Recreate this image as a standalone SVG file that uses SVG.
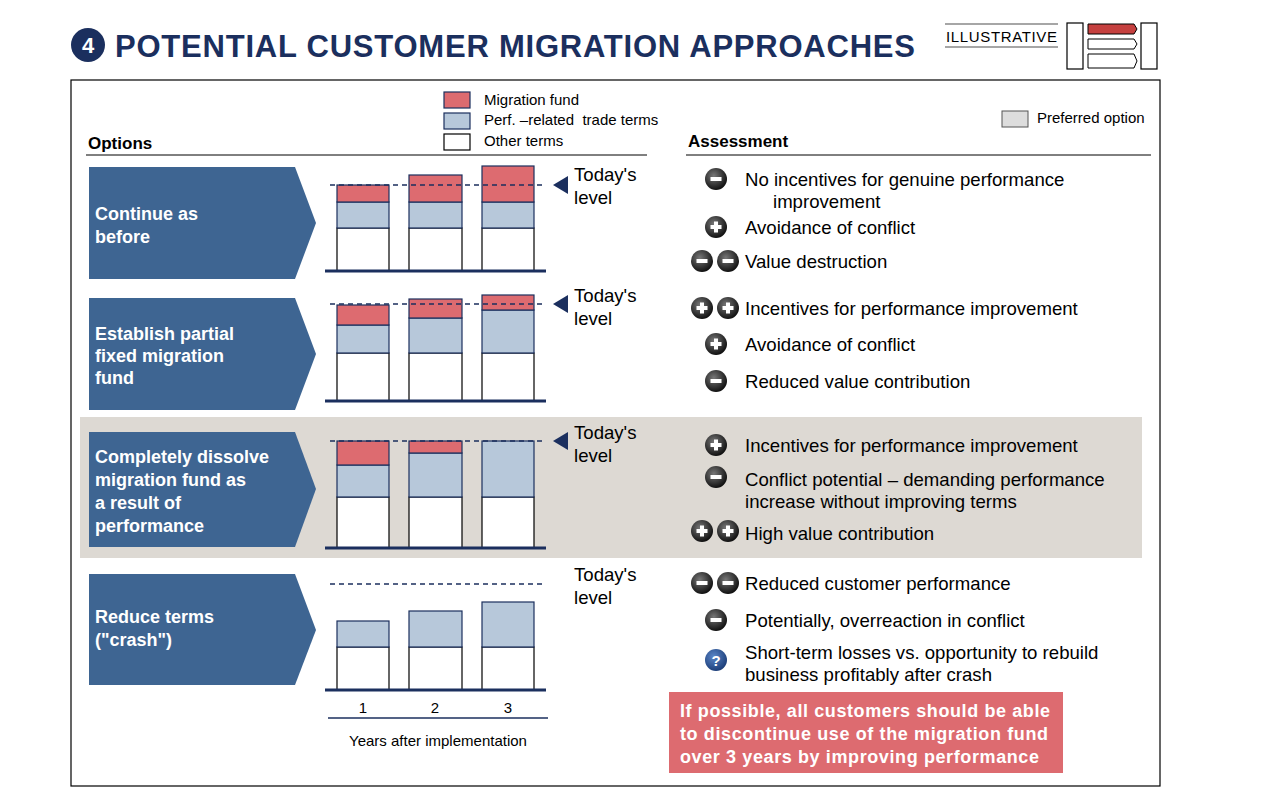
<svg xmlns="http://www.w3.org/2000/svg" width="1280" height="799" viewBox="0 0 1280 799">
<defs>
<radialGradient id="g" cx="40%" cy="35%" r="65%"><stop offset="0" stop-color="#777"/><stop offset="1" stop-color="#111"/></radialGradient>
<radialGradient id="gb" cx="40%" cy="35%" r="65%"><stop offset="0" stop-color="#5a86c8"/><stop offset="1" stop-color="#1d3f7a"/></radialGradient>
<g id="minus"><circle r="11" fill="url(#g)"/><rect x="-5.5" y="-2" width="11" height="4" fill="#fff"/></g>
<g id="plus"><circle r="11" fill="url(#g)"/><rect x="-5.5" y="-2" width="11" height="4" fill="#fff"/><rect x="-2" y="-5.5" width="4" height="11" fill="#fff"/></g>
<g id="tri"><polygon points="0,0 15,-9 15,9" fill="#1b2f5e"/></g>
</defs>
<style>
text{font-family:"Liberation Sans",Arial,sans-serif;fill:#000}
.t{font-size:18.6px}
.h{font-size:17px;font-weight:bold}
.w{font-size:18px;font-weight:bold;fill:#fff}
.s{font-size:15px}
.red{fill:#dd6b70;stroke:#1b2f5e;stroke-width:1.2}
.blue{fill:#b7c8da;stroke:#1b2f5e;stroke-width:1.2}
.wh{fill:#fff;stroke:#000;stroke-width:1.2}
.base{stroke:#1b2f5e;stroke-width:3}
.dash{stroke:#1b2f5e;stroke-width:1.3;stroke-dasharray:5,4}
.arr{fill:#3e6592}
</style>
<rect width="1280" height="799" fill="#fff"/>
<circle cx="88" cy="45" r="17" fill="#1b2f5e"/>
<text x="88" y="53" text-anchor="middle" style="font-size:22px;font-weight:bold;fill:#fff">4</text>
<text x="115" y="57" textLength="800" style="font-size:31px;font-weight:bold;fill:#1b2f5e">POTENTIAL CUSTOMER MIGRATION APPROACHES</text>
<g id="logo">
<line x1="945" y1="24" x2="1058" y2="24" stroke="#888" stroke-width="1.5"/>
<line x1="945" y1="47" x2="1058" y2="47" stroke="#888" stroke-width="1.5"/>
<text x="946" y="42" textLength="111" style="font-size:15px">ILLUSTRATIVE</text>
<rect x="1067" y="23" width="16" height="46" fill="#fff" stroke="#000" stroke-width="1.2"/>
<rect x="1141" y="23" width="16" height="46" fill="#fff" stroke="#000" stroke-width="1.2"/>
<path d="M1088,24 H1134 L1137,29 L1134,34 H1088Z" fill="#c5403f" stroke="#000"/>
<path d="M1088,39 H1134 L1137,44 L1134,49 H1088Z" fill="#fff" stroke="#000"/>
<path d="M1088,54 H1134 L1137,61 L1134,68 H1088Z" fill="#fff" stroke="#000"/>
</g>
<rect x="71" y="80" width="1089" height="706" fill="none" stroke="#000" stroke-width="1.2"/>
<rect x="80" y="417" width="1062" height="141" fill="#ddd9d3"/>
<g id="legend">
<rect x="444" y="92" width="26" height="16" class="red"/><text x="484" y="105" class="s">Migration fund</text>
<rect x="444" y="113" width="26" height="16" class="blue"/><text x="484" y="125" class="s" xml:space="preserve">Perf. –related  trade terms</text>
<rect x="444" y="134" width="26" height="16" class="wh"/><text x="484" y="146" class="s">Other terms</text>
<rect x="1002" y="111" width="26" height="16" fill="#ddd" stroke="#555"/><text x="1037" y="123" class="s">Preferred option</text>
</g>
<text x="88" y="149" class="h">Options</text>
<line x1="86" y1="155" x2="647" y2="155" stroke="#000"/>
<text x="688" y="147" class="h">Assessment</text>
<line x1="686" y1="155" x2="1151" y2="155" stroke="#000"/>
<g id="opt1"><polygon class="arr" points="89,167 295,167 316,223 295,279 89,279"/><text x="95" y="220" class="w">Continue as</text><text x="95" y="243" class="w">before</text></g>
<g id="opt2"><polygon class="arr" points="89,298 295,298 316,354 295,410 89,410"/><text x="95" y="340" class="w">Establish partial</text><text x="95" y="362" class="w">fixed migration</text><text x="95" y="384" class="w">fund</text></g>
<g id="opt3"><polygon class="arr" points="89,432 295,432 316,489 295,547 89,547"/><text x="95" y="463" class="w">Completely dissolve</text><text x="95" y="486" class="w">migration fund as</text><text x="95" y="509" class="w">a result of</text><text x="95" y="532" class="w">performance</text></g>
<g id="opt4"><polygon class="arr" points="89,574 295,574 316,630 295,685 89,685"/><text x="95" y="623" class="w">Reduce terms</text><text x="95" y="646" class="w">("crash")</text></g>
<g id="chart1">
<rect x="337" y="228" width="52" height="43" class="wh"/><rect x="337" y="202" width="52" height="26" class="blue"/><rect x="337" y="185" width="52" height="17" class="red"/>
<rect x="409" y="228" width="53" height="43" class="wh"/><rect x="409" y="202" width="53" height="26" class="blue"/><rect x="409" y="175" width="53" height="27" class="red"/>
<rect x="482" y="228" width="52" height="43" class="wh"/><rect x="482" y="202" width="52" height="26" class="blue"/><rect x="482" y="166" width="52" height="36" class="red"/>
<line x1="330" y1="185" x2="545" y2="185" class="dash"/><line x1="325" y1="271" x2="546" y2="271" class="base"/>
<use href="#tri" x="553" y="185"/><text x="574" y="181" class="t">Today's</text><text x="574" y="204" class="t">level</text>
</g>
<g id="chart2">
<rect x="337" y="353" width="52" height="48" class="wh"/><rect x="337" y="325" width="52" height="28" class="blue"/><rect x="337" y="305" width="52" height="20" class="red"/>
<rect x="409" y="353" width="53" height="48" class="wh"/><rect x="409" y="318" width="53" height="35" class="blue"/><rect x="409" y="299" width="53" height="19" class="red"/>
<rect x="482" y="353" width="52" height="48" class="wh"/><rect x="482" y="310" width="52" height="43" class="blue"/><rect x="482" y="295" width="52" height="15" class="red"/>
<line x1="330" y1="304" x2="545" y2="304" class="dash"/><line x1="325" y1="401" x2="546" y2="401" class="base"/>
<use href="#tri" x="553" y="304"/><text x="574" y="302" class="t">Today's</text><text x="574" y="325" class="t">level</text>
</g>
<g id="chart3">
<rect x="337" y="497" width="52" height="51" class="wh"/><rect x="337" y="465" width="52" height="32" class="blue"/><rect x="337" y="441" width="52" height="24" class="red"/>
<rect x="409" y="497" width="53" height="51" class="wh"/><rect x="409" y="453" width="53" height="44" class="blue"/><rect x="409" y="441" width="53" height="12" class="red"/>
<rect x="482" y="497" width="52" height="51" class="wh"/><rect x="482" y="441" width="52" height="56" class="blue"/>
<line x1="330" y1="441" x2="545" y2="441" class="dash"/><line x1="325" y1="548" x2="546" y2="548" class="base"/>
<use href="#tri" x="553" y="441"/><text x="574" y="439" class="t">Today's</text><text x="574" y="462" class="t">level</text>
</g>
<g id="chart4">
<rect x="337" y="647" width="52" height="43" class="wh"/><rect x="337" y="621" width="52" height="26" class="blue"/>
<rect x="409" y="647" width="53" height="43" class="wh"/><rect x="409" y="611" width="53" height="36" class="blue"/>
<rect x="482" y="647" width="52" height="43" class="wh"/><rect x="482" y="602" width="52" height="45" class="blue"/>
<line x1="330" y1="584" x2="545" y2="584" class="dash"/><line x1="325" y1="690" x2="546" y2="690" class="base"/>
<text x="574" y="581" class="t">Today's</text><text x="574" y="604" class="t">level</text>
</g>
<g id="axis">
<line x1="328" y1="718" x2="548" y2="718" stroke="#1b2f5e" stroke-width="1.5"/>
<text x="363" y="713" class="s" text-anchor="middle">1</text><text x="435" y="713" class="s" text-anchor="middle">2</text><text x="508" y="713" class="s" text-anchor="middle">3</text>
<text x="438" y="746" class="s" text-anchor="middle">Years after implementation</text>
</g>
<g id="assess1">
<use href="#minus" x="716" y="179"/><text x="745" y="186" class="t">No incentives for genuine performance</text><text x="773" y="208" class="t">improvement</text>
<use href="#plus" x="716" y="227"/><text x="745" y="234" class="t">Avoidance of conflict</text>
<use href="#minus" x="702" y="261"/><use href="#minus" x="728" y="261"/><text x="745" y="268" class="t">Value destruction</text>
</g>
<g id="assess2">
<use href="#plus" x="702" y="308"/><use href="#plus" x="728" y="308"/><text x="745" y="315" class="t">Incentives for performance improvement</text>
<use href="#plus" x="716" y="344"/><text x="745" y="351" class="t">Avoidance of conflict</text>
<use href="#minus" x="716" y="381"/><text x="745" y="388" class="t">Reduced value contribution</text>
</g>
<g id="assess3">
<use href="#plus" x="716" y="445"/><text x="745" y="452" class="t">Incentives for performance improvement</text>
<use href="#minus" x="716" y="477"/><text x="745" y="486" class="t">Conflict potential – demanding performance</text><text x="745" y="508" class="t">increase without improving terms</text>
<use href="#plus" x="702" y="531"/><use href="#plus" x="728" y="531"/><text x="745" y="540" class="t">High value contribution</text>
</g>
<g id="assess4">
<use href="#minus" x="702" y="583"/><use href="#minus" x="728" y="583"/><text x="745" y="590" class="t">Reduced customer performance</text>
<use href="#minus" x="716" y="620"/><text x="745" y="627" class="t">Potentially, overreaction in conflict</text>
<circle cx="716" cy="660" r="11" fill="url(#gb)"/><text x="716" y="666" text-anchor="middle" style="font-size:15px;font-weight:bold;fill:#fff">?</text>
<text x="745" y="659" class="t">Short-term losses vs. opportunity to rebuild</text><text x="745" y="681" class="t">business profitably after crash</text>
</g>
<g id="note">
<rect x="669" y="692" width="394" height="81" fill="#dd6b70"/>
<text x="680" y="717" class="w" textLength="370">If possible, all customers should be able</text>
<text x="680" y="740" class="w" textLength="368">to discontinue use of the migration fund</text>
<text x="680" y="763" class="w" textLength="359">over 3 years by improving performance</text>
</g>
</svg>
